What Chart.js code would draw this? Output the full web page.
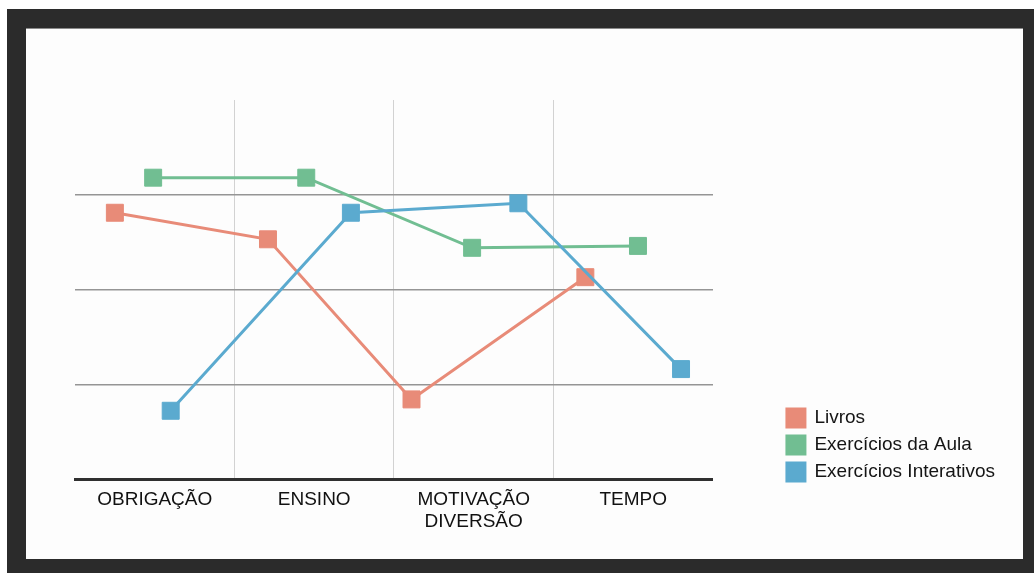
<!DOCTYPE html>
<html>
<head>
<meta charset="utf-8">
<script src="https://cdn.jsdelivr.net/npm/chart.js@4"></script>
<style>
  html, body { margin: 0; padding: 0; background: #fff; }
  #frame { position: absolute; left: 7px; top: 9px; width: 1027px; height: 564px; background: #2b2b2b; }
  #panel { position: absolute; left: 19px; top: 19px; width: 997px; height: 530px; background: #fdfdfd; border-top: 1px solid #8a8a8a; }
  canvas { display: block; }
</style>
</head>
<body>
<div id="frame"><div id="panel"><canvas id="chart" width="997" height="530"></canvas></div></div>
<script>
var categories = ['OBRIGAÇÃO', 'ENSINO', ['MOTIVAÇÃO', 'DIVERSÃO'], 'TEMPO'];
var seriesNames = ['Livros', 'Exercícios da Aula', 'Exercícios Interativos'];
var seriesColors = ['#e88b78', '#71be92', '#5baacf'];

// x = position inside the category band (0..4), y = value on the 0..4 scale
var livrosX = [0.25, 1.21, 2.11, 3.20];
var livrosY = [2.81, 2.53, 0.84, 2.13];
var aulaX = [0.49, 1.45, 2.49, 3.53];
var aulaY = [3.18, 3.18, 2.44, 2.46];
var interativosX = [0.60, 1.73, 2.78, 3.80];
var interativosY = [0.72, 2.81, 2.91, 1.16];

var yTicks = [0, 1, 2, 3, 4];

function points(xs, ys) {
    return xs.map(function(x, i) {
        return { x: x, y: ys[i] }
    })
}

var allX = [livrosX, aulaX, interativosX];
var allY = [livrosY, aulaY, interativosY];
var drawOrder = [2, 1, 0];

var datasets = seriesNames.map(function(name, i) {
    return {
        label: name,
        data: points(allX[i], allY[i]),
        borderColor: seriesColors[i],
        backgroundColor: seriesColors[i],
        borderWidth: 3,
        tension: 0,
        pointStyle: 'rect',
        pointRadius: 12,
        pointHoverRadius: 12,
        pointBorderWidth: 1,
        pointBorderColor: seriesColors[i],
        pointBackgroundColor: seriesColors[i],
        order: drawOrder[i]
    }
});

var font = 'Liberation Sans, Arial, sans-serif';

var ctx = document.getElementById('chart').getContext('2d');
new Chart(ctx, {
    type: 'line',
    data: { datasets: datasets },
    options: {
        responsive: false,
        animation: false,
        layout: { padding: { left: 49, top: 71, right: 18, bottom: 20 } },
        plugins: {
            tooltip: { enabled: false },
            legend: {
                position: 'right',
                align: 'start',
                fullSize: true,
                title: {
                    display: true,
                    text: ' ',
                    font: { size: 1 },
                    padding: { top: 299.3, bottom: 0 }
                },
                labels: {
                    boxWidth: 18,
                    boxHeight: 18,
                    padding: 8,
                    color: '#151515',
                    font: { family: font, size: 19 },
                    sort: function(a, b) { return a.datasetIndex - b.datasetIndex }
                }
            }
        },
        scales: {
            x: {
                type: 'linear',
                min: 0,
                max: 4,
                afterBuildTicks: function(scale) {
                    scale.ticks = categories.map(function(c, i) { return { value: i + 0.5 } })
                },
                afterFit: function(scale) { scale.height = 60 },
                ticks: {
                    padding: 9,
                    color: '#111',
                    font: { family: font, size: 19 },
                    callback: function(value, index) { return categories[index] }
                },
                grid: {
                    offset: true,
                    drawTicks: false,
                    lineWidth: 1,
                    color: function(c) {
                        return (c.type === 'tick' && c.index > 0) ? '#d2d2d2' : 'rgba(0,0,0,0)'
                    }
                },
                border: { display: true, color: '#303030', width: 3 }
            },
            y: {
                position: 'right',
                min: 0,
                max: 4,
                afterBuildTicks: function(scale) {
                    scale.ticks = yTicks.map(function(v) { return { value: v } })
                },
                afterFit: function(scale) { scale.width = 66 },
                ticks: { display: false },
                grid: {
                    drawTicks: false,
                    lineWidth: 1.5,
                    color: function(c) {
                        var v = c.tick ? c.tick.value : 0;
                        return (v > 0 && v < 4) ? '#959595' : 'rgba(0,0,0,0)'
                    }
                },
                border: { display: false }
            }
        }
    }
});
</script>
</body>
</html>
